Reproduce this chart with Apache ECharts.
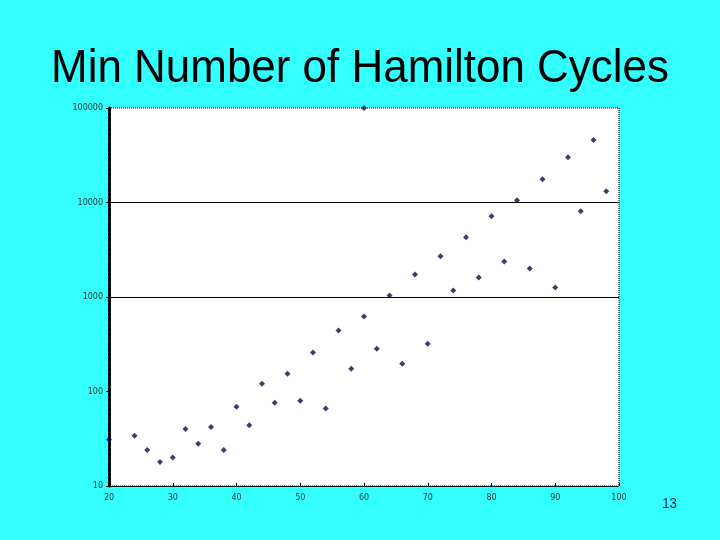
<!DOCTYPE html>
<html>
<head>
<meta charset="utf-8">
<script src="https://cdn.jsdelivr.net/npm/echarts@6/dist/echarts.min.js"></script>
<style>
html,body{margin:0;padding:0;background:#33ffff;}
#chart{width:720px;height:540px;}
</style>
</head>
<body>
<div id="chart"></div>
<script>
var titleText = "Min Number of Hamilton Cycles";
var pageNumber = "13";
var nValues = [20, 24, 26, 28, 30, 32, 34, 36, 38, 40, 42, 44, 46, 48, 50, 52, 54, 56, 58, 60, 60, 62, 64, 66, 68, 70, 72, 74, 76, 78, 80, 82, 84, 86, 88, 90, 92, 94, 96, 98];
var cycleCounts = [31, 34, 24, 18, 20, 40, 28, 42, 24, 69, 44, 121, 76, 154, 80, 258, 66, 441, 174, 621, 100000, 284, 1038, 197, 1733, 321, 2692, 1172, 4280, 1610, 7145, 2381, 10565, 2006, 17650, 1262, 30200, 8075, 45750, 13160];
var xTicks = [20, 30, 40, 50, 60, 70, 80, 90, 100];
var yTicks = [10, 100, 1000, 10000, 100000];
var gridLineValues = [1000, 10000];

var points = nValues.map(function (n, i) { return [n, cycleCounts[i]]; });

var chart = echarts.init(document.getElementById('chart'));
chart.setOption({
  backgroundColor: '#33ffff',
  animation: false,
  graphic: [{
    type: 'text',
    x: 360, y: 69.5,
    scaleX: 0.935,
    style: {
      text: titleText,
      font: '47px "Liberation Sans"',
      fill: '#000',
      align: 'center',
      verticalAlign: 'middle'
    }
  }, {
    type: 'text',
    x: 669.5, y: 503.5,
    scaleX: 0.88,
    style: {
      text: pageNumber,
      font: '15px "Liberation Sans"',
      fill: '#1a1a4a',
      align: 'center',
      verticalAlign: 'middle'
    }
  }],
  grid: {
    left: 109, right: 101, top: 108, bottom: 54,
    show: true, backgroundColor: '#ffffff',
    borderColor: '#000', borderWidth: 1, borderType: 'dotted'
  },
  xAxis: {
    type: 'value', min: 20, max: 100, interval: 10,
    axisLine: {show: true, lineStyle: {color: '#000', type: 'dotted', width: 1}},
    axisTick: {show: true, inside: true, length: 3, lineStyle: {color: '#000'}},
    splitLine: {show: false},
    axisLabel: {
      fontFamily: 'DejaVu Sans', fontSize: 8, color: '#333', margin: 8,
      formatter: function (v) { return xTicks.indexOf(v) >= 0 ? String(v) : ''; }
    }
  },
  yAxis: {
    type: 'log', logBase: 10, min: 10, max: 100000,
    axisLine: {show: true, lineStyle: {color: '#000', type: [3, 2], width: 3}},
    axisTick: {show: true, length: 3, lineStyle: {color: '#000'}},
    splitLine: {show: false},
    axisLabel: {
      fontFamily: 'DejaVu Sans', fontSize: 8, color: '#333', margin: 6,
      formatter: function (v) { var r = Math.round(v); return yTicks.indexOf(r) >= 0 ? String(r) : ''; }
    }
  },
  series: [{
    type: 'scatter',
    data: points,
    symbol: 'diamond',
    symbolSize: 6,
    itemStyle: {color: '#0b0b4a'},
    markLine: {
      silent: true,
      symbol: ['none', 'none'],
      label: {show: false},
      lineStyle: {color: '#000', type: 'solid', width: 1},
      data: gridLineValues.map(function (v) { return {yAxis: v}; })
    }
  }]
});
</script>
</body>
</html>
